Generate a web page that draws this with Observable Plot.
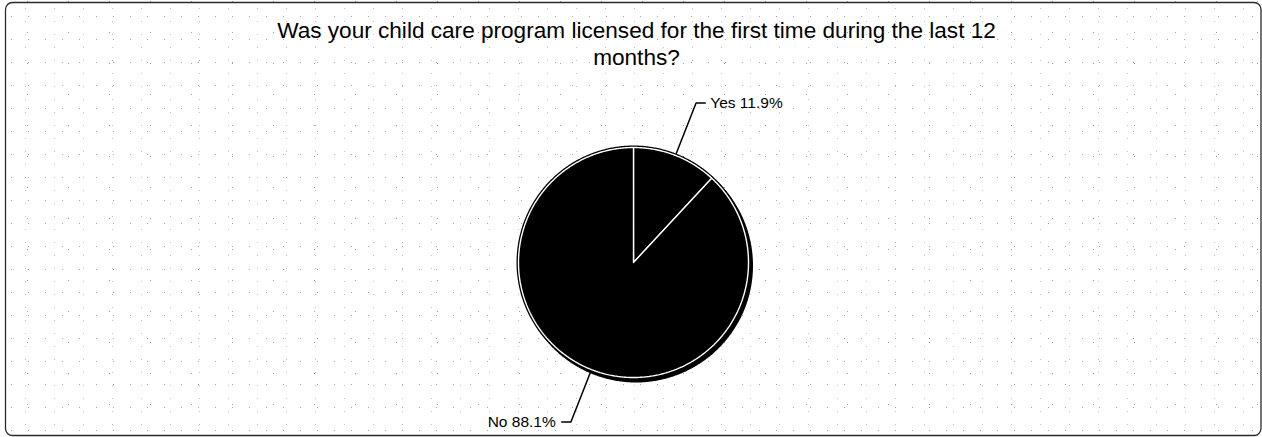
<!DOCTYPE html>
<html>
<head>
<meta charset="utf-8">
<script src="https://cdn.jsdelivr.net/npm/d3@7"></script>
<script src="https://cdn.jsdelivr.net/npm/@observablehq/plot@0.6"></script>
<style>
  html, body { margin: 0; padding: 0; background: #fff; }
  #chart {
    width: 1262px; height: 437px; position: relative;
    background-color: #fff;
    background-image:
      radial-gradient(circle, rgba(90,90,90,0.55) 0.6px, transparent 1px),
      radial-gradient(circle, rgba(120,120,120,0.45) 0.6px, transparent 1px),
      radial-gradient(circle, rgba(60,60,60,0.5) 0.5px, transparent 1px);
    background-size: 17px 23px, 29px 13px, 41px 31px;
    background-position: 3px 5px, 11px 2px, 7px 17px;
  }
  svg { font-family: "Liberation Sans", Arial, sans-serif; }
</style>
</head>
<body>
<div id="chart"></div>
<script>
// ---- data ----
const categories = ["Yes", "No"];
const percents = [11.9, 88.1];
const titleLines = ["Was your child care program licensed for the first time during the last 12", "months?"];

// ---- layout constants ----
const W = 1262, H = 437;
const CX = 633, CY = 262, RPX = 115;

// pie geometry in radius units (radius = 1), angles clockwise from 12 o'clock
const arcs = d3.pie().sort(null).value(d => d)(percents);
const pt = (a, r) => ({x: r * Math.sin(a), y: r * Math.cos(a)});

function arcPolygon(a0, a1, r, key, withCenter) {
  const n = Math.max(8, Math.ceil((a1 - a0) / 0.01));
  const pts = [];
  if (withCenter) pts.push({...pt(0, 0), key});
  for (let i = 0; i <= n; i++) pts.push({...pt(a0 + (a1 - a0) * i / n, r), key});
  if (withCenter) pts.push({...pt(0, 0), key});
  return pts;
}

const slices = arcs.flatMap((a, i) => arcPolygon(a.startAngle, a.endAngle, 1, categories[i], true));
const disc = arcPolygon(0, 2 * Math.PI, 117 / 115, "disc", false);

const leaders = [];
const labels = [];
arcs.forEach((a, i) => {
  const m = (a.startAngle + a.endAngle) / 2;
  const p1 = pt(m, 1.02), p2 = pt(m, 1.49);
  const side = p2.x >= 0 ? 1 : -1;
  const p3 = {x: p2.x + side * 0.08, y: p2.y};
  leaders.push({...p1, key: categories[i]}, {...p2, key: categories[i]}, {...p3, key: categories[i]});
  labels.push({...p3, side, text: `${categories[i]} ${percents[i]}%`});
});

const plot = Plot.plot({
  width: W, height: H,
  marginTop: 0, marginRight: 0, marginBottom: 0, marginLeft: 0,
  x: {domain: [-CX / RPX, (W - CX) / RPX], axis: null},
  y: {domain: [-(H - CY) / RPX, CY / RPX], axis: null},
  style: {background: "transparent", fontFamily: "Liberation Sans, Arial, sans-serif"},
  marks: [
    Plot.frame({stroke: "#2a2a2a", strokeWidth: 1.3, rx: 7, insetLeft: 5, insetTop: 2, insetRight: 1.5, insetBottom: 2}),
    // shadow
    Plot.line(disc, {x: "x", y: "y", fill: "black", stroke: "none", dx: 2.5, dy: 3}),
    // outer outline
    Plot.line(disc, {x: "x", y: "y", fill: "black", stroke: "none"}),
    // slices
    Plot.line(slices, {x: "x", y: "y", z: "key", fill: "black", stroke: "white", strokeWidth: 1.4, strokeLinejoin: "miter"}),
    // leader lines
    Plot.line(leaders, {x: "x", y: "y", z: "key", stroke: "black", strokeWidth: 1.5}),
    Plot.text(labels.filter(d => d.side > 0), {x: "x", y: "y", text: "text", textAnchor: "start", dx: 5, fontSize: 15.5, fill: "black"}),
    Plot.text(labels.filter(d => d.side < 0), {x: "x", y: "y", text: "text", textAnchor: "end", dx: -6, fontSize: 15.5, fill: "black"}),
    // title
    Plot.text([titleLines.join("\n")], {frameAnchor: "top", text: d => d, fontSize: 22.6, lineHeight: 1.2, dy: 18, dx: 5, fill: "black"})
  ]
});
document.getElementById("chart").appendChild(plot);
</script>
</body>
</html>
